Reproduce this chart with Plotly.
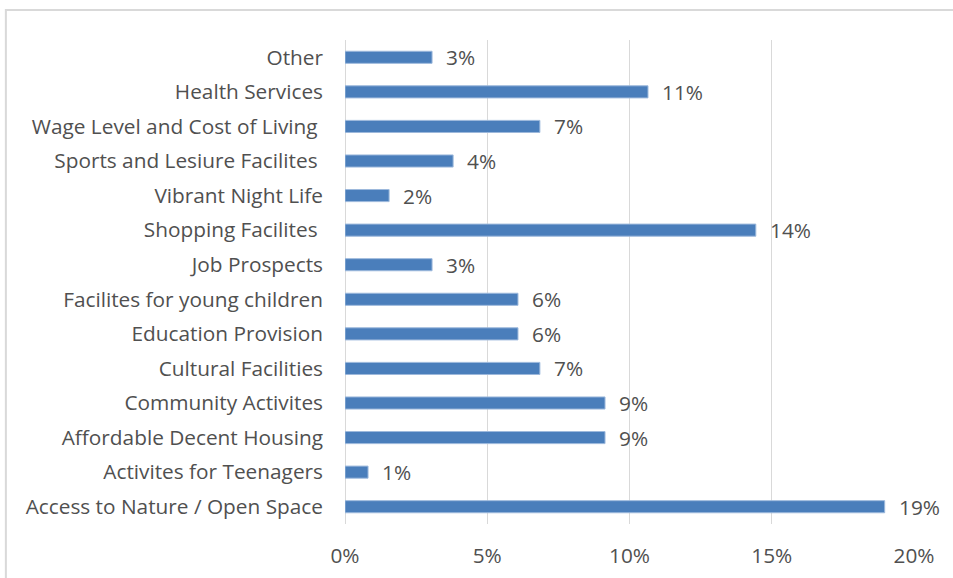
import plotly.graph_objects as go

# categories listed bottom to top, as plotted
categories = [
    'Access to Nature / Open Space',
    'Activites for Teenagers',
    'Affordable Decent Housing',
    'Community Activites',
    'Cultural Facilities',
    'Education Provision',
    'Facilites for young children',
    'Job Prospects',
    'Shopping Facilites ',
    'Vibrant Night Life',
    'Sports and Lesiure Facilites ',
    'Wage Level and Cost of Living ',
    'Health Services',
    'Other',
]
shares = [0.1897, 0.0081, 0.0914, 0.0914, 0.0685, 0.0608, 0.0608,
          0.0306, 0.1444, 0.0155, 0.0380, 0.0685, 0.1065, 0.0306]
x_ticks = [0, 0.05, 0.10, 0.15, 0.20]

FONT = 'Open Sans'
FSIZE = 20.8
TEXT_COLOR = '#505050'
BAR_COLOR = '#4A7EBB'

fig = go.Figure(go.Bar(
    x=shares, y=categories, orientation='h',
    marker=dict(color=BAR_COLOR, line=dict(color='#9DB9DC', width=1)),
    width=0.35,
    hoverinfo='x+y',
))

# value labels right of each bar
for cat, v in zip(categories, shares):
    fig.add_annotation(x=v, y=cat, text=f'{v:.0%}', showarrow=False,
                       xanchor='left', xshift=12,
                       font=dict(family=FONT, size=FSIZE, color=TEXT_COLOR))

# light outer frame, cropped on the right and bottom like the source image
fig.add_shape(type='rect', xref='paper', yref='paper',
              x0=-0.596, x1=1.2, y0=-0.3, y1=1.062,
              line=dict(color='#D9D9D9', width=2), layer='below')

fig.update_layout(
    width=953, height=578,
    margin=dict(l=345, r=39, t=40, b=54),
    paper_bgcolor='white', plot_bgcolor='white',
    showlegend=False,
    font=dict(family=FONT, size=FSIZE, color=TEXT_COLOR),
)
fig.update_xaxes(
    range=[0, 0.20], tickvals=x_ticks, tickformat='.0%',
    showgrid=True, gridcolor='#D9D9D9', gridwidth=1,
    zeroline=True, zerolinecolor='#D9D9D9', zerolinewidth=1,
    showline=False, ticks='', ticklabelstandoff=17, automargin=False,
    tickfont=dict(family=FONT, size=FSIZE, color=TEXT_COLOR),
)
fig.update_yaxes(
    categoryorder='array', categoryarray=categories,
    showgrid=False, zeroline=False, showline=False, ticks='',
    ticklabelstandoff=21, automargin=False,
    tickfont=dict(family=FONT, size=FSIZE, color=TEXT_COLOR),
)

# drop the default page margin so the figure sits at the window origin
fig.write_html('out.html', config={'displayModeBar': False},
               post_script="document.body.style.margin='0';")
